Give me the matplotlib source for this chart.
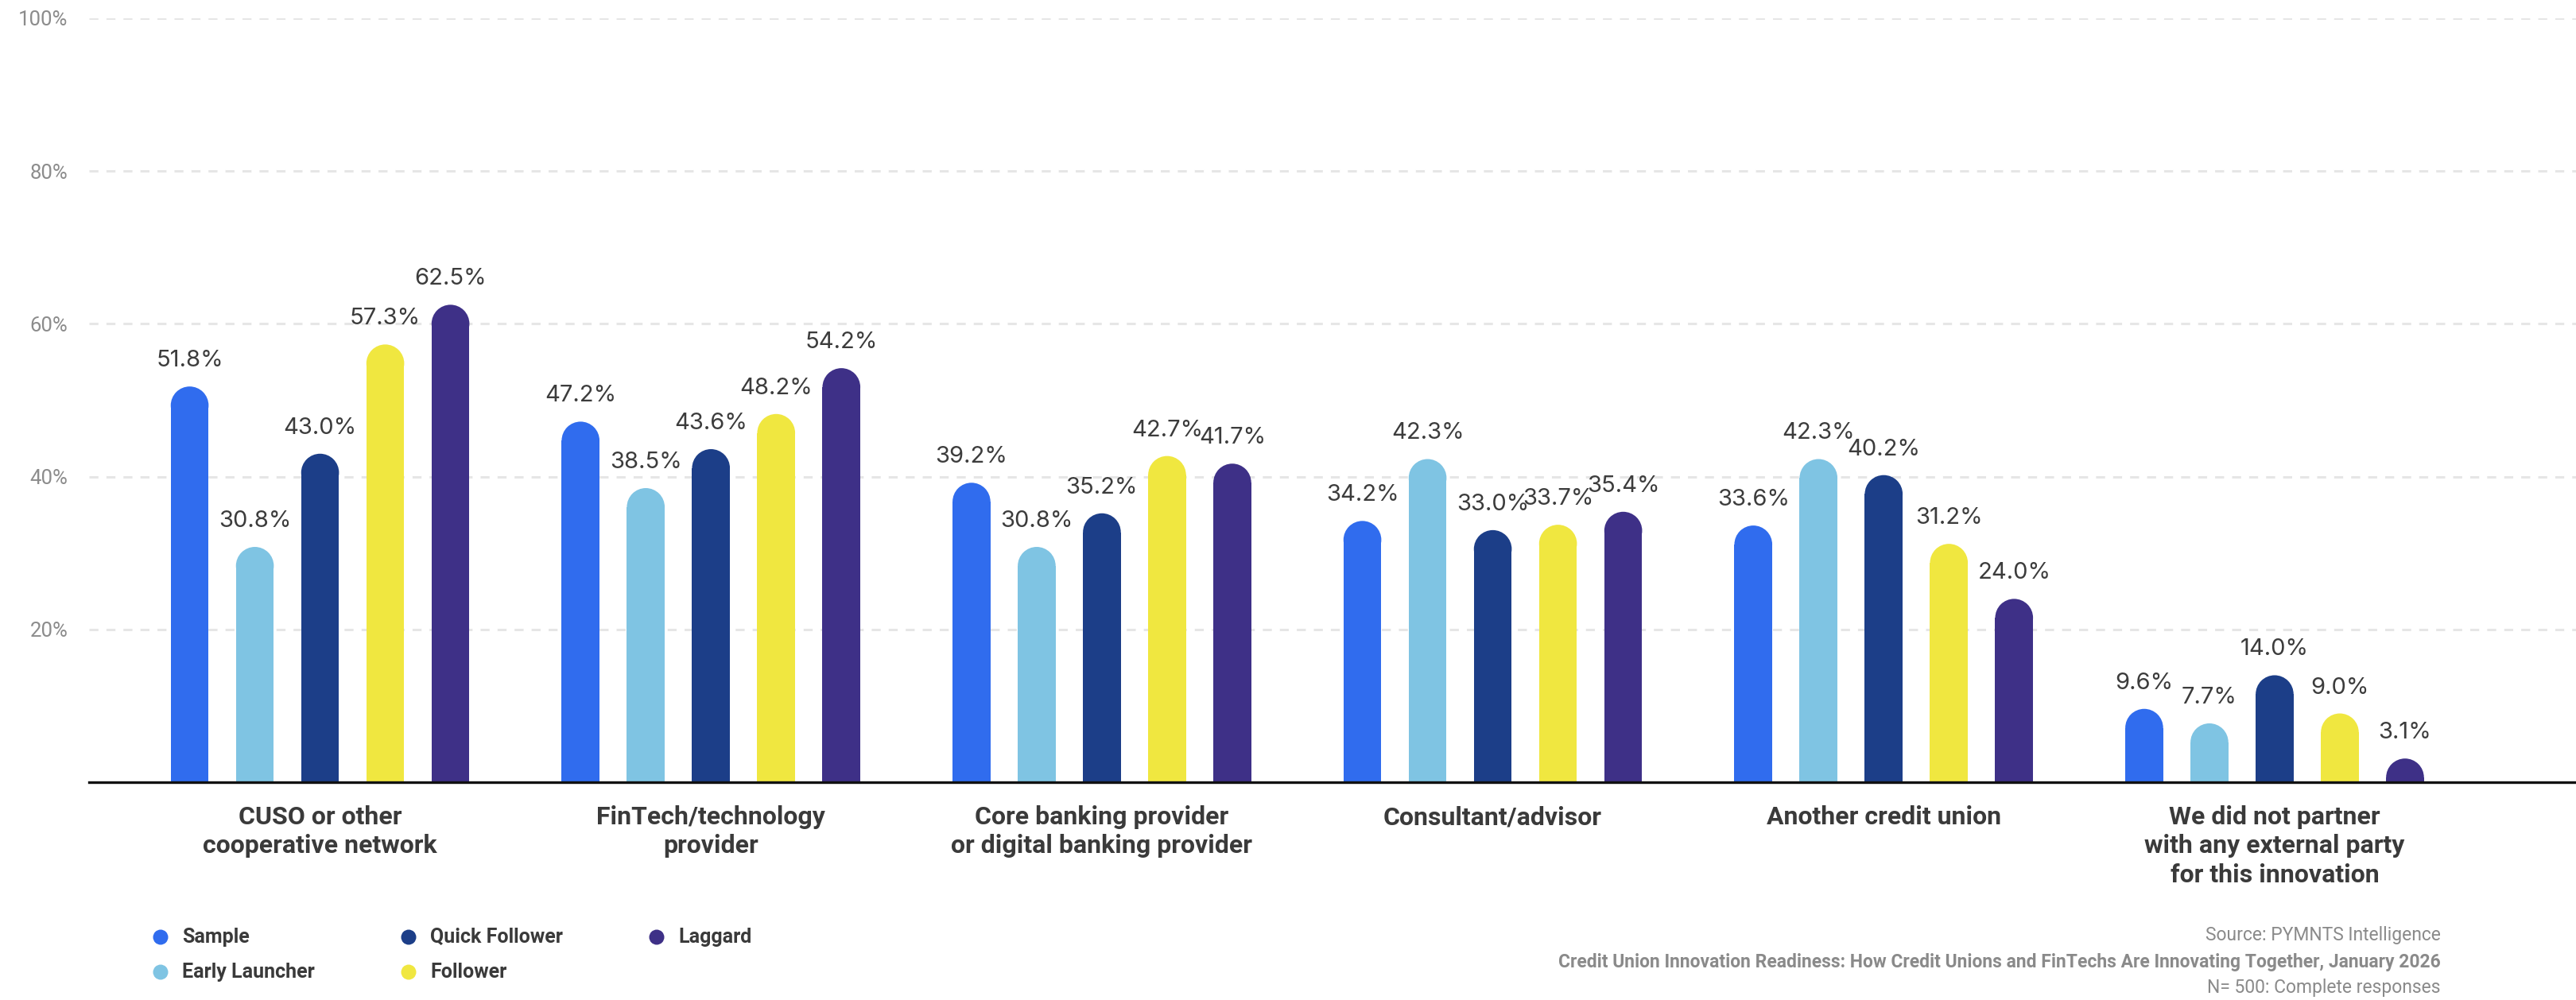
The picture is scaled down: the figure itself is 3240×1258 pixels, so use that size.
import numpy as np
import matplotlib
matplotlib.use('Agg')
import matplotlib.pyplot as plt
from matplotlib.patches import Rectangle, Ellipse

# partner types on the x axis
categories = ['CUSO or other\ncooperative network',
              'FinTech/technology\nprovider',
              'Core banking provider\nor digital banking provider',
              'Consultant/advisor',
              'Another credit union',
              'We did not partner\nwith any external party\nfor this innovation']

series_names = ['Sample', 'Early Launcher', 'Quick Follower', 'Follower', 'Laggard']
series_colors = ['#306CEE', '#7FC4E3', '#1C3E88', '#F0E740', '#3E3087']

sample = [51.8, 47.2, 39.2, 34.2, 33.6, 9.6]
early_launcher = [30.8, 38.5, 30.8, 42.3, 42.3, 7.7]
quick_follower = [43.0, 43.6, 35.2, 33.0, 40.2, 14.0]
follower = [57.3, 48.2, 42.7, 33.7, 31.2, 9.0]
laggard = [62.5, 54.2, 41.7, 35.4, 24.0, 3.1]
series_values = [sample, early_launcher, quick_follower, follower, laggard]

y_ticks = [20, 40, 60, 80, 100]
y_tick_labels = ['20%', '40%', '60%', '80%', '100%']

source_lines = ['Source: PYMNTS Intelligence',
                'Credit Union Innovation Readiness: How Credit Unions and FinTechs Are Innovating Together, January 2026',
                'N= 500: Complete responses']

W, H = 3241, 1258
fig = plt.figure(figsize=(W / 100, H / 100), dpi=100)
ax_left, ax_bottom, ax_top = 112, 984, 23
ax = fig.add_axes([ax_left / W, 1 - ax_bottom / H, 1 - ax_left / W, (ax_bottom - ax_top) / H])

x_min, x_max = -0.591, 5.773
ax.set_xlim(x_min, x_max)
ax.set_ylim(0, 100)

bar_step = 0.1668
bar_w = 0.0968

# pixel scale of the axes, used for the round bar caps
px_x = (W - ax_left) / (x_max - x_min)
px_y = (ax_bottom - ax_top) / 100.0
r_y = (bar_w * px_x / 2.0) / px_y

x = np.arange(len(categories))
for k in range(len(series_names)):
    xs = x + (k - 2) * bar_step
    for xi, v in zip(xs, series_values[k]):
        ax.add_patch(Rectangle((xi - bar_w / 2, 0), bar_w, v - r_y,
                               facecolor=series_colors[k], edgecolor='none', zorder=3))
        ax.add_patch(Ellipse((xi, v - r_y), bar_w, 2 * r_y,
                             facecolor=series_colors[k], edgecolor='none', zorder=3))
        ax.annotate('%.1f%%' % v, (xi, v), xytext=(0, 18), textcoords='offset points',
                    ha='center', va='baseline', fontsize=21, family='Inter',
                    color='#3c3c3c', zorder=4)

# dashed gridlines
for yt in y_ticks:
    ax.axhline(yt, color='#e6e6e6', lw=2.2, ls=(0, (3.7, 3.3)), zorder=1)

for s in ['top', 'right', 'left']:
    ax.spines[s].set_visible(False)
ax.spines['bottom'].set_color('#111111')
ax.spines['bottom'].set_linewidth(2.4)
ax.spines['bottom'].set_zorder(5)

ax.set_yticks(y_ticks)
ax.set_yticklabels(y_tick_labels, fontsize=18.5, family='Roboto', color='#8c8c8c')
ax.tick_params(axis='y', length=0, pad=19)

ax.set_xticks(x)
ax.set_xticklabels(categories, fontsize=23, family='Roboto', fontweight='bold',
                   color='#3a3a3a', linespacing=1.26)
ax.tick_params(axis='x', length=0, pad=21)

# legend drawn by hand, column by column
leg_cols = [202, 514, 826]
leg_rows = [1179, 1223]
dot_r = 9.5
for k, name in enumerate(series_names):
    cx = leg_cols[k // 2]
    cy = leg_rows[k % 2]
    fig.add_artist(Ellipse((cx / W, 1 - cy / H), 2 * dot_r / W, 2 * dot_r / H,
                           transform=fig.transFigure, facecolor=series_colors[k],
                           edgecolor='none'))
    fig.text((cx + 27) / W, 1 - cy / H, name, ha='left', va='center', fontsize=18,
             family='Roboto', fontweight='bold', color='#3a3a3a')

src_y = [1177, 1210, 1242]
src_w = ['normal', 'bold', 'normal']
for t, yy, fw in zip(source_lines, src_y, src_w):
    fig.text(3070 / W, 1 - yy / H, t, ha='right', va='center', fontsize=16.5,
             family='Roboto', fontweight=fw, color='#8a8a8a')

fig.savefig('out.png', dpi=100)
